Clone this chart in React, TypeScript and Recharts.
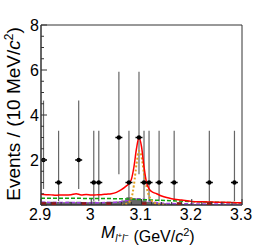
import { ComposedChart, Line, Area, Scatter, ErrorBar, XAxis, YAxis, ReferenceArea } from 'recharts'

// data points (10 MeV bins), only non-empty bins
const pointX = [2.905, 2.935, 2.975, 3.005, 3.015, 3.055, 3.075, 3.095, 3.105, 3.115, 3.135, 3.165, 3.235, 3.285]
const pointN = [2, 1, 2, 1, 1, 3, 1, 3, 1, 1, 1, 1, 1, 1]
const pointErrLow = [1.29, 0.83, 1.29, 0.83, 0.83, 1.63, 0.83, 1.63, 0.83, 0.83, 0.83, 0.83, 0.83, 0.83]
const pointErrHigh = [2.64, 2.3, 2.64, 2.3, 2.3, 2.92, 2.3, 2.92, 2.3, 2.3, 2.3, 2.3, 2.3, 2.3]

// total fit (red)
const totalX = [2.9, 2.91, 2.92, 2.93, 2.94, 2.95, 2.96, 2.97, 2.98, 2.99, 3.0, 3.01, 3.02, 3.03, 3.04, 3.05, 3.06, 3.07, 3.075, 3.08, 3.085, 3.09, 3.095, 3.1, 3.105, 3.11, 3.115, 3.12, 3.13, 3.14, 3.15, 3.16, 3.18, 3.2, 3.22, 3.24, 3.26, 3.28, 3.3]
const totalY = [0.48, 0.46, 0.45, 0.43, 0.45, 0.44, 0.46, 0.5, 0.45, 0.47, 0.44, 0.45, 0.46, 0.48, 0.5, 0.56, 0.68, 0.85, 0.95, 1.15, 1.7, 2.5, 3.0, 2.6, 1.7, 1.0, 0.72, 0.6, 0.5, 0.4, 0.33, 0.28, 0.22, 0.16, 0.14, 0.13, 0.12, 0.11, 0.1]

// smooth background (green dashed)
const bkgX = [2.9, 2.95, 3.0, 3.05, 3.08, 3.1, 3.12, 3.15, 3.2, 3.25, 3.3]
const bkgY = [0.3, 0.3, 0.29, 0.28, 0.26, 0.24, 0.22, 0.2, 0.15, 0.12, 0.1]

// peaking background (violet dashed)
const peakBkgX = [2.9, 2.95, 3.0, 3.05, 3.07, 3.08, 3.09, 3.1, 3.11, 3.12, 3.14, 3.2, 3.3]
const peakBkgY = [0.12, 0.11, 0.1, 0.12, 0.2, 0.25, 0.28, 0.27, 0.22, 0.15, 0.08, 0.05, 0.04]

// signal (orange dotted)
const sigX = [3.06, 3.07, 3.075, 3.08, 3.085, 3.09, 3.095, 3.1, 3.105, 3.11, 3.115, 3.12, 3.13, 3.14, 3.15]
const sigY = [0, 0.05, 0.12, 0.3, 0.9, 1.8, 2.4, 2.15, 1.4, 0.8, 0.4, 0.2, 0.06, 0.02, 0]

// MC histogram (dark grey)
const histX = [2.9, 2.91, 2.92, 2.93, 2.94, 2.95, 2.96, 2.97, 2.98, 2.99, 3.0, 3.01, 3.02, 3.03, 3.04, 3.05, 3.06, 3.07, 3.08, 3.09, 3.1, 3.11, 3.12, 3.13, 3.14, 3.15, 3.16, 3.17, 3.18, 3.19, 3.2, 3.3]
const histY = [0.14, 0.12, 0.15, 0.13, 0.12, 0.14, 0.12, 0.15, 0.13, 0.12, 0.14, 0.12, 0.13, 0.15, 0.14, 0.16, 0.2, 0.35, 0.3, 0.25, 0.2, 0.15, 0.12, 0.1, 0.08, 0.06, 0.05, 0.04, 0.04, 0.03, 0.02, 0.02]

// other background (dark red boxes)
const otherX = [2.905, 2.925, 2.985, 3.035, 3.105, 3.175, 3.235]
const otherY = [0.06, 0.06, 0.06, 0.06, 0.06, 0.06, 0.06]

const xMajor = [2.9, 3.0, 3.1, 3.2, 3.3]
const xMajorLabels = ['2.9', '3', '3.1', '3.2', '3.3']
const xMinor = [2.92, 2.94, 2.96, 2.98, 3.02, 3.04, 3.06, 3.08, 3.12, 3.14, 3.16, 3.18, 3.22, 3.24, 3.26, 3.28]
const yMajor = [0, 2, 4, 6, 8]
const yMajorLabels = ['', '2', '4', '6', '8']
const yMinor = [0.5, 1, 1.5, 2.5, 3, 3.5, 4.5, 5, 5.5, 6.5, 7, 7.5]

const font = '"Liberation Sans", Arial, sans-serif'

const points = pointX.map((x, i) => ({ x, y: pointN[i], err: [pointErrLow[i], pointErrHigh[i]] }))
const toXY = (xs: number[], ys: number[]) => xs.map((x, i) => ({ x, y: ys[i] }))

const XTick = (props: any) => {
  const { x, y, payload } = props
  const idx = xMajor.indexOf(payload.value)
  const top = y - 3
  return (
    <g>
      <line x1={x} x2={x} y1={top} y2={top - (idx >= 0 ? 6 : 3)} stroke="#333" />
      {idx >= 0 && (
        <text x={x - 1} y={y + 12} textAnchor="middle" fontSize={16} fontFamily={font} fill="#000">
          {xMajorLabels[idx]}
        </text>
      )}
    </g>
  )
}

const YTick = (props: any) => {
  const { x, y, payload } = props
  const idx = yMajor.indexOf(payload.value)
  const left = x + 2
  return (
    <g>
      <line x1={left} x2={left + (idx >= 0 ? 6 : 3)} y1={y} y2={y} stroke="#333" />
      {idx >= 0 && (
        <text x={x} y={y + 5.5} textAnchor="end" fontSize={16} fontFamily={font} fill="#000">
          {yMajorLabels[idx]}
        </text>
      )}
    </g>
  )
}

const PointShape = (props: any) => {
  const { cx, cy } = props
  return (
    <g>
      <line x1={cx - 3.5} x2={cx + 3.5} y1={cy} y2={cy} stroke="#000" strokeWidth={1.5} />
      <circle cx={cx} cy={cy} r={2.2} fill="#000" />
    </g>
  )
}

const BoxShape = (props: any) => {
  const { cx, cy } = props
  return <rect x={cx - 2.5} y={cy - 1.5} width={5} height={3} fill="#8b1a1a" />
}

export default function App() {
  return (
    <div style={{ position: 'absolute', left: 0, top: 0, width: 258, height: 250, background: '#fff' }}>
      <ComposedChart width={258} height={250} margin={{ top: 25, right: 16, bottom: 0, left: 0 }}>
        <XAxis
          type="number"
          dataKey="x"
          domain={[2.9, 3.3]}
          allowDataOverflow
          ticks={[...xMajor, ...xMinor]}
          interval={0}
          tickLine={false}
          tickSize={0}
          tickMargin={3}
          axisLine={{ stroke: '#333' }}
          tick={<XTick />}
          height={45}
        />
        <YAxis
          type="number"
          dataKey="y"
          domain={[0, 8]}
          allowDataOverflow
          ticks={[...yMajor, ...yMinor]}
          interval={0}
          tickLine={false}
          tickSize={0}
          tickMargin={2}
          axisLine={{ stroke: '#333' }}
          tick={<YTick />}
          width={41}
        />
        <Area data={toXY(histX, histY)} dataKey="y" type="stepAfter" stroke="none" fill="#555" fillOpacity={0.9} isAnimationActive={false} />
        <Scatter data={toXY(otherX, otherY)} dataKey="y" shape={<BoxShape />} isAnimationActive={false} />
        <Scatter data={points} dataKey="y" shape={<PointShape />} isAnimationActive={false}>
          <ErrorBar dataKey="err" direction="y" width={0} stroke="#666" strokeWidth={1.2} />
        </Scatter>
        <Line data={toXY(peakBkgX, peakBkgY)} dataKey="y" type="monotone" stroke="#a040e0" strokeWidth={1.5} strokeDasharray="4 2" dot={false} isAnimationActive={false} />
        <Line data={toXY(bkgX, bkgY)} dataKey="y" type="monotone" stroke="#10a010" strokeWidth={1.5} strokeDasharray="4 2" dot={false} isAnimationActive={false} />
        <Line data={toXY(sigX, sigY)} dataKey="y" type="monotone" stroke="#e0a020" strokeWidth={2} strokeDasharray="2 2" dot={false} isAnimationActive={false} />
        <Line data={toXY(totalX, totalY)} dataKey="y" type="monotone" stroke="#ff0000" strokeWidth={1.5} dot={false} isAnimationActive={false} />
        <ReferenceArea x1={2.9} x2={3.3} y1={0} y2={8} fill="none" stroke="#333" strokeWidth={1} ifOverflow="visible" />
        <text transform="rotate(-90, 20, 114)" x={20} y={114} textAnchor="middle" fontSize={19} fontFamily={font} fill="#000">
          Events / (10 MeV/<tspan fontStyle="italic">c</tspan>
          <tspan fontSize={12} dy={-7}>2</tspan>
          <tspan dy={7}>)</tspan>
        </text>
        <text x={101} y={238} fontSize={16} fontFamily={font} fill="#000">
          <tspan fontStyle="italic" fontSize={17}>M</tspan>
          <tspan fontSize={10} fontStyle="italic" dy={4}>l</tspan>
          <tspan fontSize={8} dy={-4}>+</tspan>
          <tspan fontSize={10} fontStyle="italic" dy={4}>l</tspan>
          <tspan fontSize={8} dy={-4}>−</tspan>
          <tspan dy={4}> (GeV/</tspan>
          <tspan fontStyle="italic">c</tspan>
          <tspan fontSize={11} dy={-6}>2</tspan>
          <tspan dy={6}>)</tspan>
        </text>
      </ComposedChart>
    </div>
  )
}
